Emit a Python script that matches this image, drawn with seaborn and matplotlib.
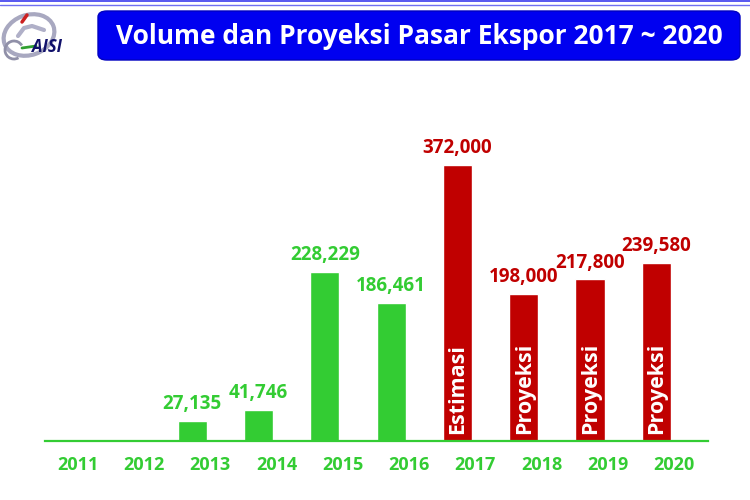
import numpy as np
import pandas as pd
import matplotlib
matplotlib.use("Agg")
import matplotlib.pyplot as plt
import seaborn as sns
from matplotlib.patches import FancyBboxPatch, Arc, Ellipse

years = ["2011", "2012", "2013", "2014", "2015", "2016", "2017", "2018", "2019", "2020"]
volumes = [0, 0, 27135, 41746, 228229, 186461, 372000, 198000, 217800, 239580]
kinds = ["Aktual"] * 6 + ["Estimasi"] + ["Proyeksi"] * 3
value_labels = ["", "", "27,135", "41,746", "228,229", "186,461", "372,000", "198,000", "217,800", "239,580"]
inner_labels = ["", "", "", "", "", "", "Estimasi", "Proyeksi", "Proyeksi", "Proyeksi"]
title = "Volume dan Proyeksi Pasar Ekspor 2017 ~ 2020"

GREEN = "#33cc33"
RED = "#c00000"
BLUE = "#0000f0"

sns.set_style("white")
plt.rcParams["font.family"] = ["Open Sans", "DejaVu Sans"]

df = pd.DataFrame({"year": years, "volume": volumes, "kind": kinds})
colors = [GREEN if k == "Aktual" else RED for k in kinds]

fig = plt.figure(figsize=(7.5, 5), dpi=100)
ax = fig.add_axes([45 / 750, 59 / 500, 663 / 750, 296.7 / 500])
sns.barplot(data=df, x="year", y="volume", hue="year", palette=colors,
            legend=False, width=0.44, saturation=1, ax=ax)
ax.set_xlim(-0.22, 9.78)
ax.set_ylim(0, 400000)
for s in ["top", "left", "right"]:
    ax.spines[s].set_visible(False)
ax.spines["bottom"].set_color(GREEN)
ax.spines["bottom"].set_linewidth(1.6)
ax.set_yticks([])
ax.set_xlabel("")
ax.set_ylabel("")
ax.set_xticks(np.arange(len(years)) + 0.27)
ax.set_xticklabels(years, color=GREEN, fontweight="bold", fontsize=13)
ax.tick_params(axis="x", length=0, pad=11)

for i, (v, lab, inner, k) in enumerate(zip(volumes, value_labels, inner_labels, kinds)):
    if lab:
        ax.annotate(lab, (i, v), xytext=(0, 5), textcoords="offset points",
                    ha="center", va="bottom", fontsize=13.5, fontweight="bold",
                    color=GREEN if k == "Aktual" else RED, annotation_clip=False)
    if inner:
        ax.annotate(inner, (i, 0), xytext=(0.5, 5), textcoords="offset points",
                    ha="center", va="bottom", rotation=90, fontsize=15.5,
                    fontweight="bold", color="white")

# header lines
fig.add_artist(plt.Line2D([0, 1], [0.998, 0.998], color="#3a3aee", lw=1.2))
fig.add_artist(plt.Line2D([0, 1], [0.991, 0.991], color="#7070f0", lw=1.0))

# title box
box = FancyBboxPatch((98 / 750, 440 / 500), 642 / 750, 49 / 500,
                     boxstyle="round,pad=0,rounding_size=0.012",
                     transform=fig.transFigure, facecolor=BLUE, edgecolor="#0000c0",
                     lw=1)
fig.add_artist(box)
fig.text(419 / 750, 464 / 500, title, ha="center", va="center", color="white",
         fontsize=19, fontweight="bold")

# logo (pixel coordinates, y from top)
logo_ax = fig.add_axes([0, 435 / 500, 95 / 750, 65 / 500])
logo_ax.set_xlim(0, 95)
logo_ax.set_ylim(65, 0)
logo_ax.axis("off")
logo_ax.add_patch(Ellipse((29, 35), 52, 40, angle=-20, fill=False, edgecolor="#a8a8c0", lw=3))
logo_ax.add_patch(Arc((14, 50), 18, 18, theta1=60, theta2=330, edgecolor="#9090a8", lw=2))
logo_ax.plot([18, 24, 32, 44], [36, 28, 26, 30], color="#b0b0c8", lw=3)
logo_ax.plot([22, 27], [22, 15], color="#cc2020", lw=2.5)
logo_ax.plot([22, 36], [48, 46], color="#30a030", lw=2)
logo_ax.text(47, 47, "AISI", ha="center", va="center", fontsize=12, fontstyle="italic",
             fontweight="bold", color="#10106a")

fig.savefig("out.png", dpi=100)
